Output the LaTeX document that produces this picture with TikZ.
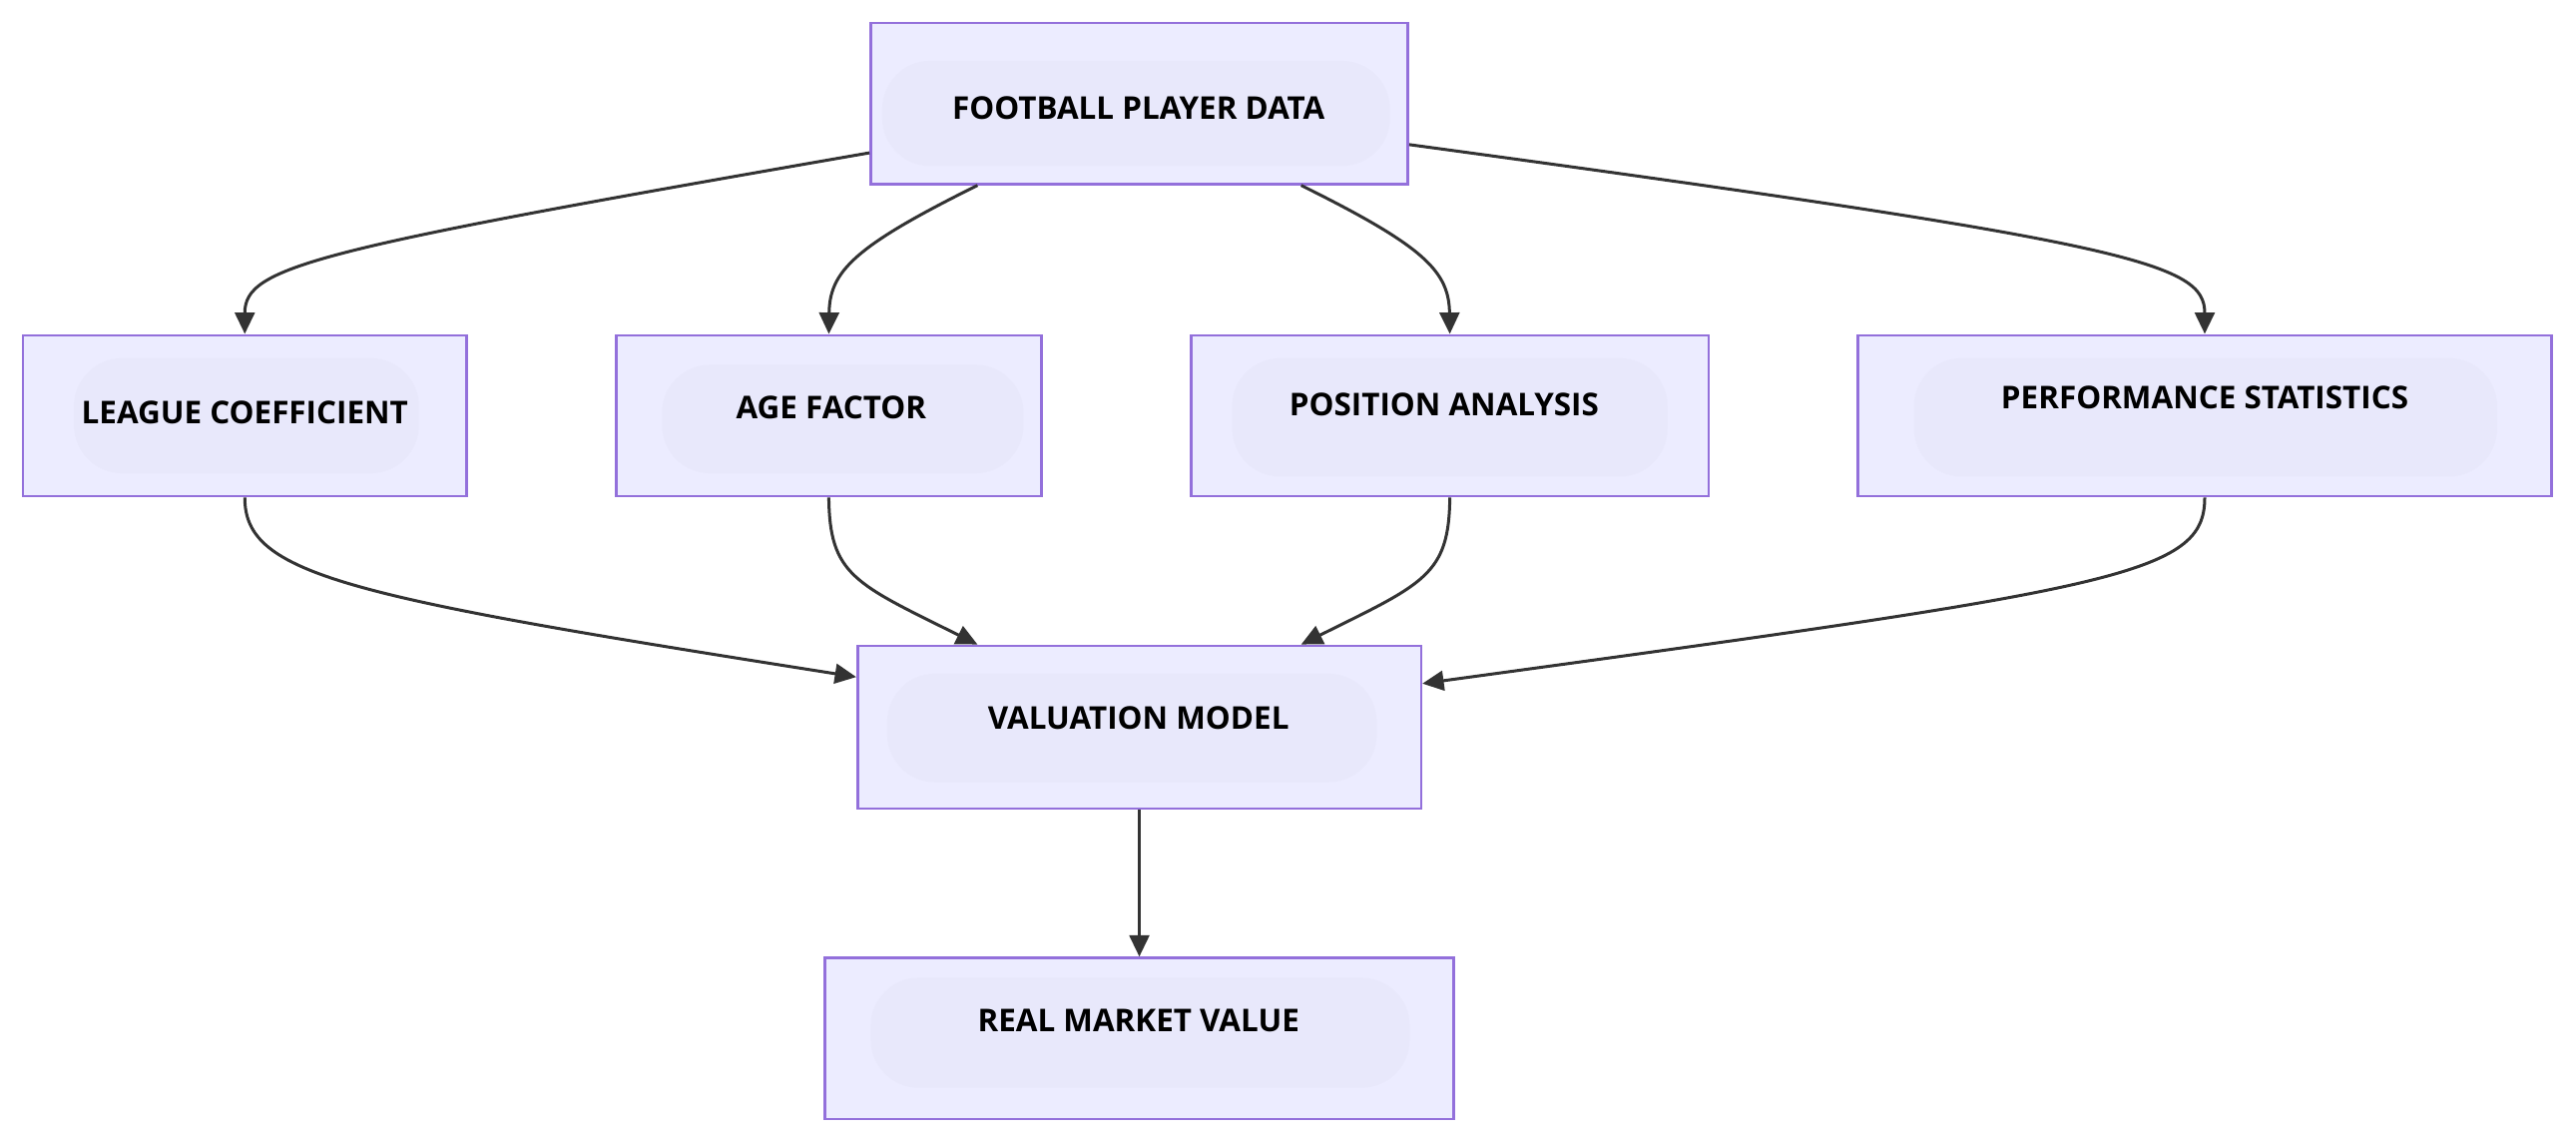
\documentclass[tikz,border=0pt]{standalone}
\usepackage{fontspec}
\setmainfont{Open Sans}
\usetikzlibrary{arrows.meta,calc}
\definecolor{boxfill}{HTML}{ECECFF}
\definecolor{boxline}{HTML}{9370DB}
\definecolor{blob}{HTML}{E3E2F6}
\definecolor{edge}{HTML}{333333}
\begin{document}
\begin{tikzpicture}[x=0.823pt,y=-0.823pt,
  bx/.style 2 args={draw=boxline,fill=boxfill,line width=1.3pt,inner sep=0pt,
    minimum width=#1*0.823pt,minimum height=#2*0.823pt},
  lbl/.style={inner sep=0pt,font=\bfseries\fontsize{15.7}{18}\selectfont,text=black},
  blobstyle/.style={fill=blob,rounded corners=24pt,opacity=0.4},
  conn/.style={draw=edge,line width=1.5pt,-{Triangle[length=13*0.823pt,width=12*0.823pt]}}]
\useasboundingbox (0,0) rectangle (1568,696);
\fill[white] (0,0) rectangle (1568,696);
% boxes
\node[bx={327}{98}] (top) at (693.5,63) {};
\node[bx={270}{98}] (league) at (149,253) {};
\node[bx={259}{98}] (age) at (504.5,253) {};
\node[bx={315}{98}] (pos) at (882.5,253) {};
\node[bx={422}{98}] (perf) at (1342,253) {};
\node[bx={343}{99}] (val) at (693.5,442.5) {};
\node[bx={383}{98}] (real) at (693.5,632) {};
% faint inner blobs
\fill[blobstyle] (537,37) rectangle (846,101);
\fill[blobstyle] (45,218) rectangle (255,288);
\fill[blobstyle] (403,222) rectangle (623,288);
\fill[blobstyle] (750,218) rectangle (1015,290);
\fill[blobstyle] (1165,218) rectangle (1520,290);
\fill[blobstyle] (540,410) rectangle (838,476);
\fill[blobstyle] (530,595) rectangle (858,662);
% labels
\node[lbl] (topt) at (693,66) {FOOTBALL PLAYER DATA};
\node[lbl] (leaguet) at (149,251) {LEAGUE COEFFICIENT};
\node[lbl] (aget) at (506,248) {AGE FACTOR};
\node[lbl] (post) at (879,246) {POSITION ANALYSIS};
\node[lbl] (perft) at (1342,242) {PERFORMANCE STATISTICS};
\node[lbl] (valt) at (693,437) {VALUATION MODEL};
\node[lbl] (realt) at (693,621) {REAL MARKET VALUE};
% connectors
\draw[conn] ($(top.west)+(0,30)$) .. controls (190,152) and (149,162) .. (league.north);
\draw[conn] ($(top.south)+(-98.5,0)$) .. controls (520,150) and (505,165) .. (age.north);
\draw[conn] ($(top.south)+(98.5,0)$) .. controls (867,150) and (882,165) .. (pos.north);
\draw[conn] ($(top.east)+(0,25)$) .. controls (1300,148) and (1342,160) .. (perf.north);
\draw[conn] (league.south) .. controls (149,350) and (210,363) .. ($(val.west)+(0,-30.5)$);
\draw[conn] (age.south) .. controls (505,350) and (520,355) .. ($(val.north)+(-98.5,0)$);
\draw[conn] (pos.south) .. controls (882,350) and (867,355) .. ($(val.north)+(98.5,0)$);
\draw[conn] (perf.south) .. controls (1342,350) and (1290,358) .. ($(val.east)+(0,-26.5)$);
\draw[conn] (val.south) -- (real.north);
\end{tikzpicture}
\end{document}
